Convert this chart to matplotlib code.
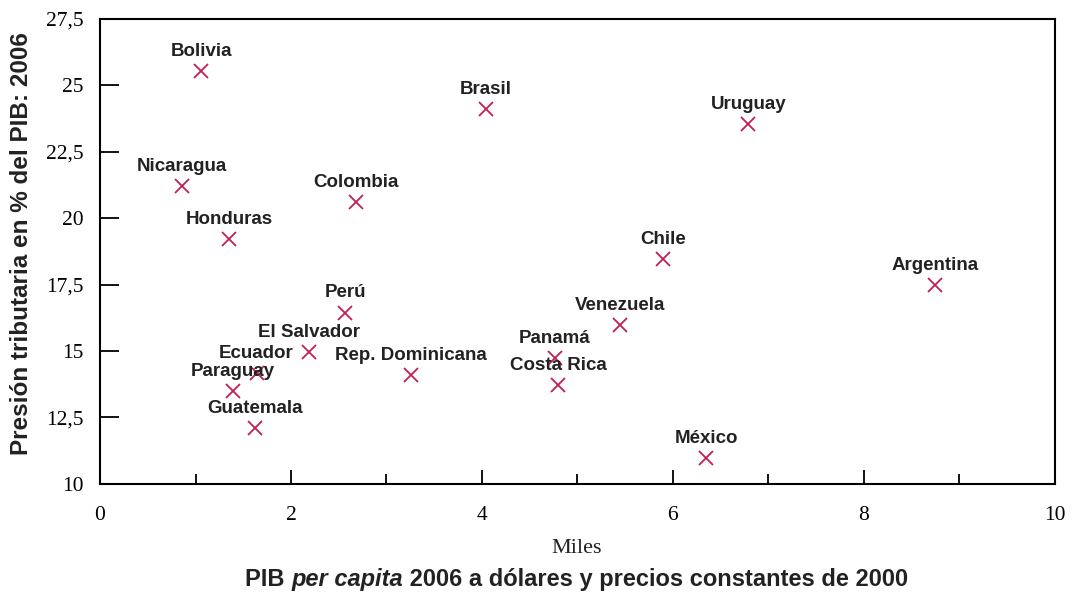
import numpy as np
import matplotlib.pyplot as plt
from matplotlib.ticker import MultipleLocator, FuncFormatter

# Data
countries = ['Bolivia', 'Nicaragua', 'Honduras', 'Colombia', 'Brasil', 'Uruguay',
             'Chile', 'Argentina', 'Perú', 'Venezuela', 'El Salvador', 'Panamá',
             'Ecuador', 'Rep. Dominicana', 'Paraguay', 'Costa Rica', 'Guatemala', 'México']
pib_pc = [1.06, 0.86, 1.35, 2.68, 4.04, 6.79,
          5.90, 8.75, 2.57, 5.45, 2.19, 4.76,
          1.64, 3.26, 1.39, 4.80, 1.62, 6.35]
presion = [25.55, 21.2, 19.2, 20.6, 24.1, 23.55,
           18.47, 17.47, 16.45, 15.98, 14.97, 14.75,
           14.18, 14.1, 13.5, 13.72, 12.1, 10.98]

fig = plt.figure(figsize=(10.72, 5.93), dpi=100)
ax = fig.add_axes([0.0933, 0.184, 0.8907, 0.784])

ax.plot(pib_pc, presion, linestyle='none', marker='x', color='#C41E54',
        markersize=10.5, markeredgewidth=1.3)

for name, x, y in zip(countries, pib_pc, presion):
    ax.annotate(name, (x, y), xytext=(0, 8), textcoords='offset points',
                ha='center', va='bottom', fontsize=13.5, fontweight='bold',
                family='Liberation Sans', color='#222222')

ax.set_xlim(0, 10)
ax.set_ylim(10, 27.5)
ax.xaxis.set_major_locator(MultipleLocator(2))
ax.xaxis.set_minor_locator(MultipleLocator(1))
ax.yaxis.set_major_locator(MultipleLocator(2.5))
ax.yaxis.set_major_formatter(FuncFormatter(lambda v, p: f'{v:g}'.replace('.', ',')))

ax.tick_params(axis='x', which='major', direction='in', length=10, width=1.3, pad=16)
ax.tick_params(axis='x', which='minor', direction='in', length=7, width=1.3)
ax.tick_params(axis='y', which='major', direction='in', length=14, width=1.3, pad=12)
for lab in ax.get_xticklabels() + ax.get_yticklabels():
    lab.set_family('Liberation Serif')
    lab.set_fontsize(15.5)
for s in ax.spines.values():
    s.set_linewidth(1.5)

fig.text(0.0205, 0.59, 'Presión tributaria en % del PIB: 2006', rotation=90,
         ha='center', va='center', fontsize=17.5, fontweight='bold',
         family='Liberation Sans', color='#222222')
fig.text(0.538, 0.075, 'Miles', ha='center', va='center', fontsize=16,
         family='Liberation Serif', color='#222222')

# bottom title with italic part
parts = [('PIB ', 'normal'), ('per capita', 'italic'),
         (' 2006 a dólares y precios constantes de 2000', 'normal')]
renderer = fig.canvas.get_renderer()
texts = []
for s, st in parts:
    t = fig.text(0, 0.022, s, ha='left', va='center', fontsize=17, fontweight='bold',
                 style=st, family='Liberation Sans', color='#222222')
    texts.append(t)
widths = [t.get_window_extent(renderer).width / fig.bbox.width for t in texts]
x0 = 0.538 - sum(widths) / 2
for t, w in zip(texts, widths):
    t.set_x(x0)
    x0 += w

fig.savefig('out.png', dpi=100)
